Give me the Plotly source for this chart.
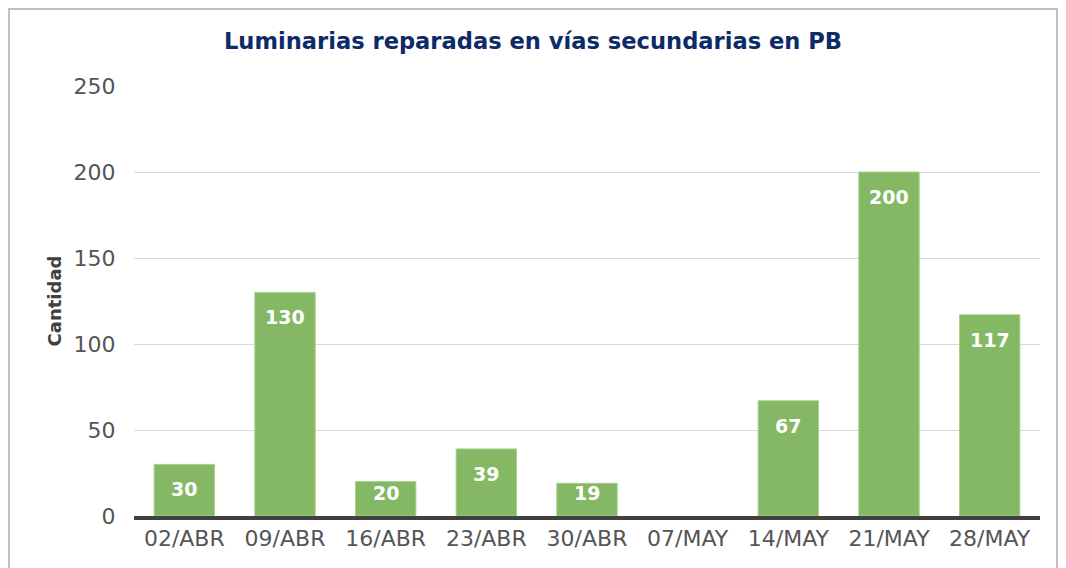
import plotly.graph_objects as go

categories = ["02/ABR", "09/ABR", "16/ABR", "23/ABR", "30/ABR", "07/MAY", "14/MAY", "21/MAY", "28/MAY"]
values = [30, 130, 20, 39, 19, None, 67, 200, 117]
labels = ["30", "130", "20", "39", "19", "", "67", "200", "117"]
y_ticks = [0, 50, 100, 150, 200, 250]

FONT = "DejaVu Sans"
Y_MAX = 250
PLOT_H = 430  # plot area height in px

fig = go.Figure()
fig.add_trace(go.Bar(
    x=categories, y=values,
    marker=dict(color="#84b865", line=dict(color="#a8d08c", width=1)),
    hoverinfo="skip",
))

for c, v, t in zip(categories, values, labels):
    if v is None or not t:
        continue
    bar_px = v * PLOT_H / Y_MAX
    shift = min(25, bar_px - 23)
    fig.add_annotation(
        x=c, y=v, text="<b>%s</b>" % t, showarrow=False,
        yanchor="middle", yshift=-shift,
        font=dict(family=FONT, size=19, color="white"),
    )

fig.update_layout(
    width=1050, height=560,
    paper_bgcolor="white", plot_bgcolor="white",
    margin=dict(l=126, r=18, t=78, b=52),
    bargap=0.4,
    showlegend=False,
    title=dict(
        text="<b>Luminarias reparadas en vías secundarias en PB</b>",
        x=0.5, xanchor="center", y=0.941, yanchor="middle",
        font=dict(family=FONT, size=22.6, color="#0d2b66"),
    ),
    xaxis=dict(
        tickfont=dict(family=FONT, size=22, color="#555555"),
        showline=True, linecolor="#404040", linewidth=4,
        ticks="", showgrid=False,
    ),
    yaxis=dict(
        range=[0, Y_MAX], tickvals=y_ticks,
        tickfont=dict(family=FONT, size=22, color="#555555"),
        showgrid=True, gridcolor="#d9d9d9", gridwidth=1,
        zeroline=False, showline=False, ticks="outside", ticklen=13, tickcolor="white",
        title=dict(text="<b>Cantidad</b>", font=dict(family=FONT, size=18, color="#404040"), standoff=7),
    ),
    shapes=[dict(
        type="rect", xref="paper", yref="paper",
        x0=-0.138, x1=1.0188, y0=-0.3, y1=1.179,
        line=dict(color="#c0c0c0", width=2), fillcolor="rgba(0,0,0,0)", layer="below",
    )],
)

fig.write_html("out.html")
